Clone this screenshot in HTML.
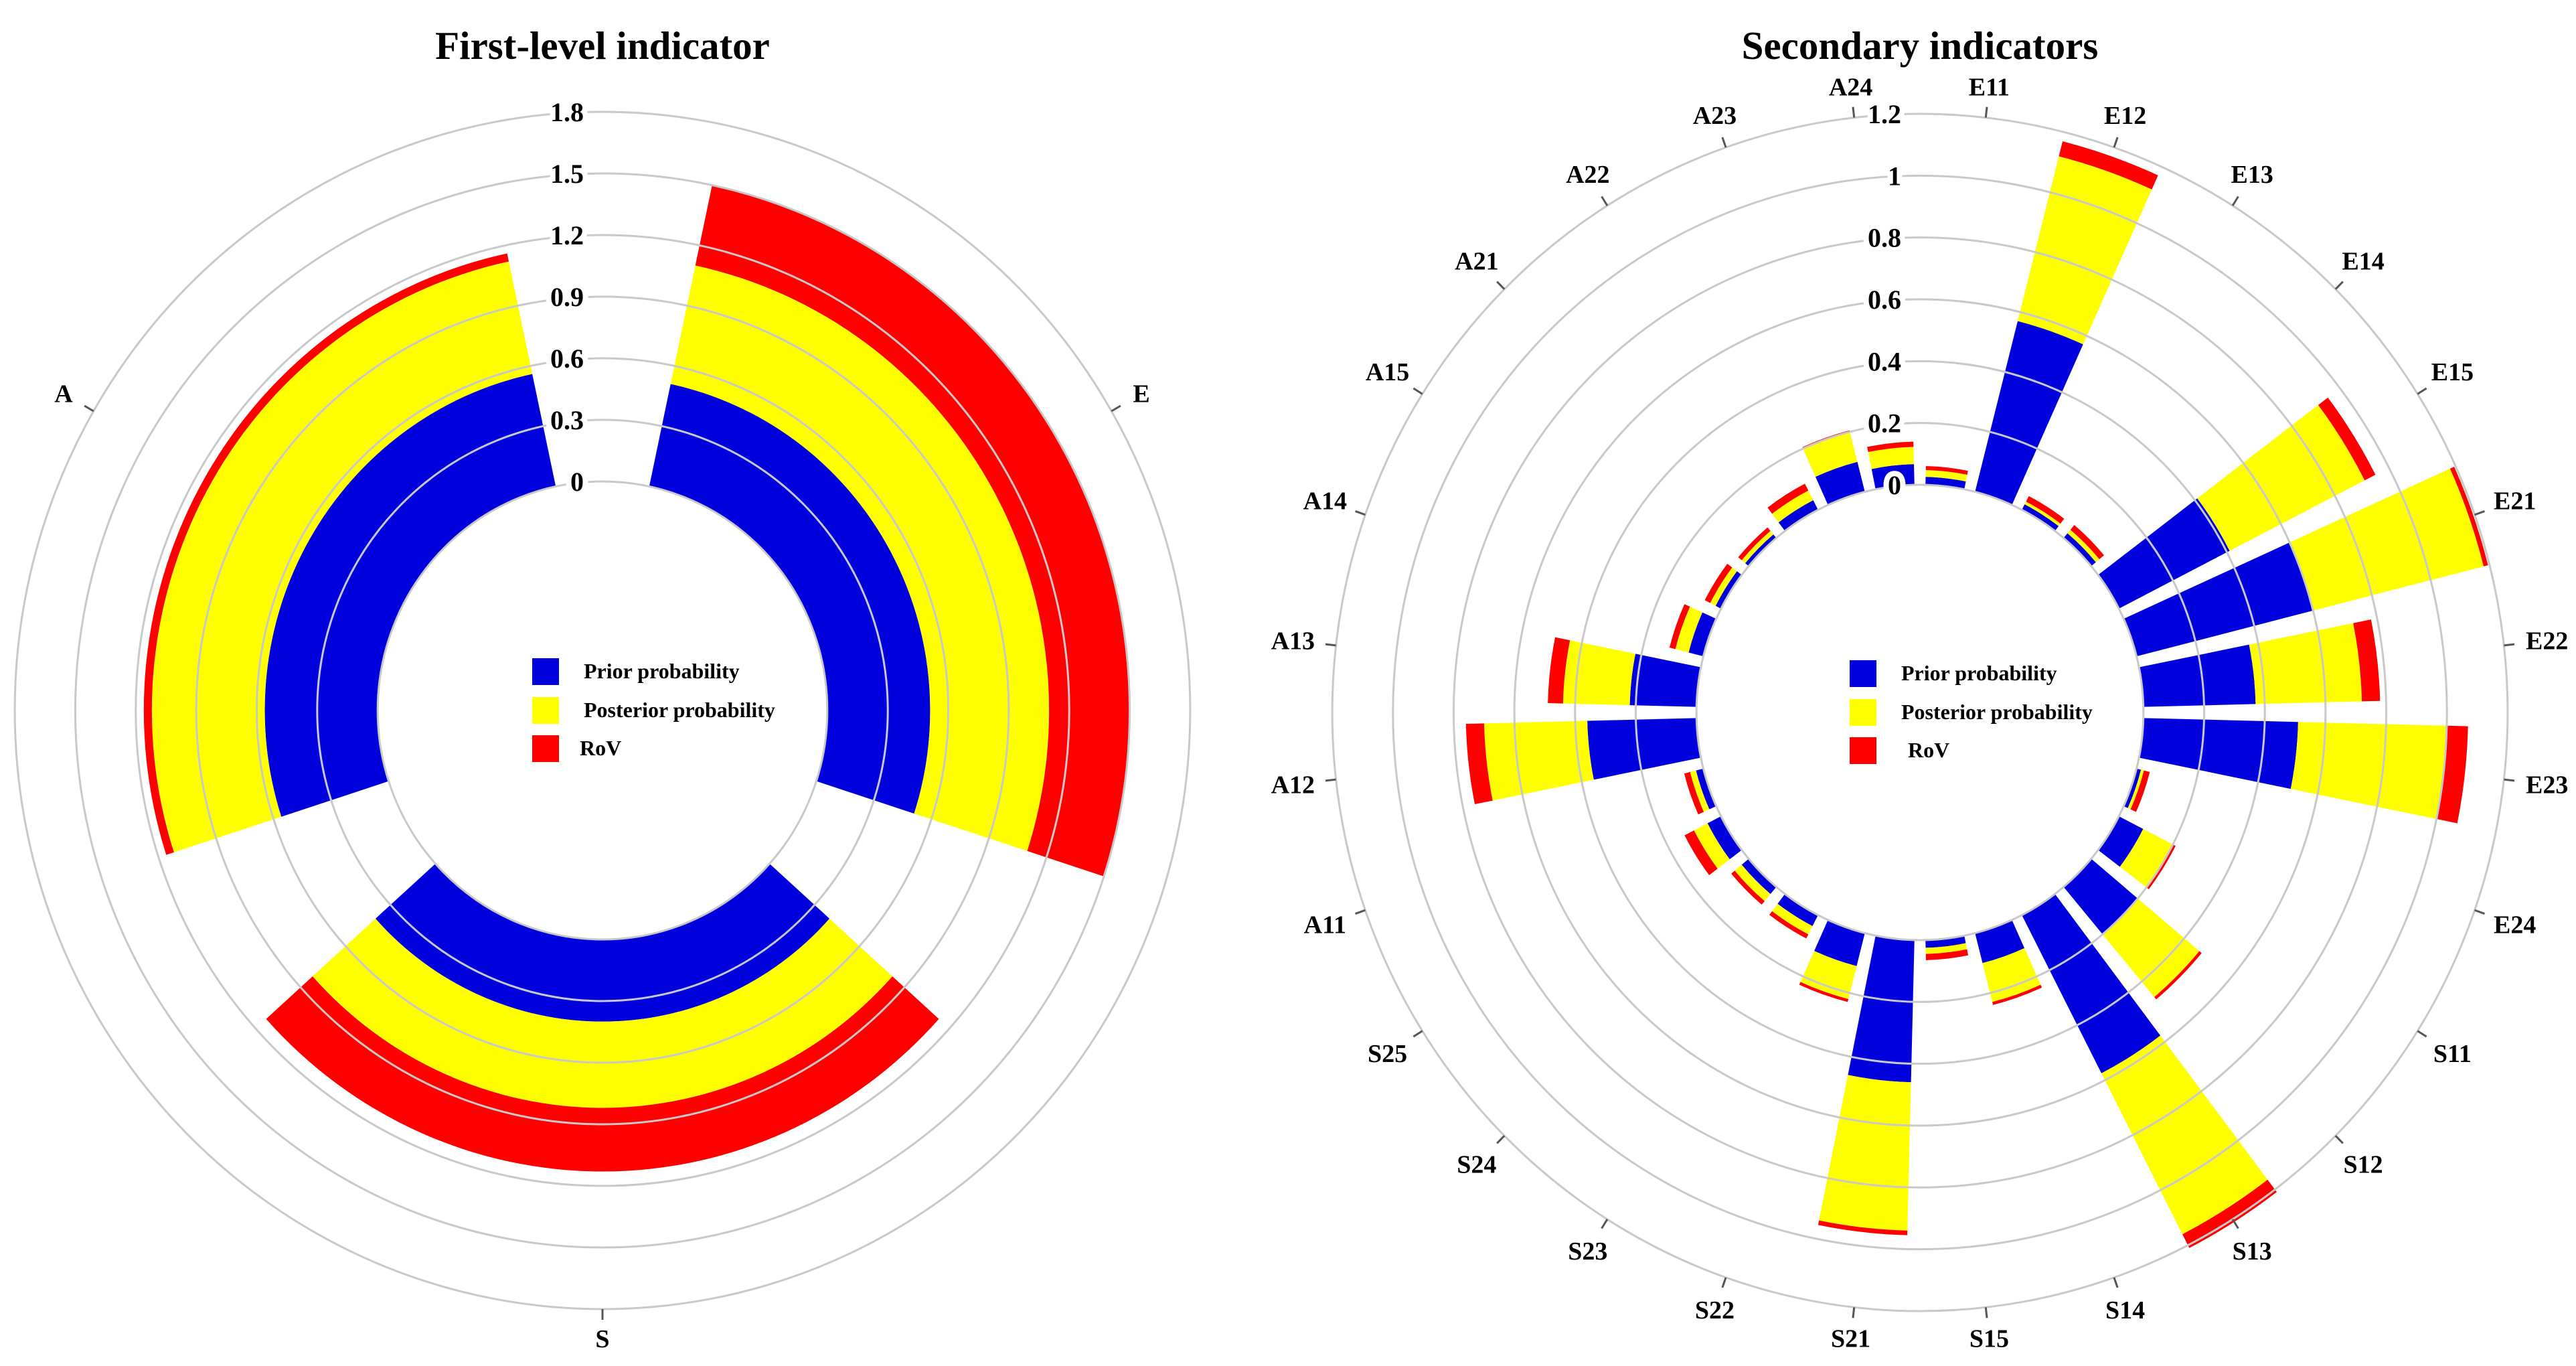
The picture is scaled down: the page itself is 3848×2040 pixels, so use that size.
<!DOCTYPE html>
<html><head><meta charset="utf-8">
<style>
html,body{margin:0;padding:0;background:#fff;}
svg{display:block;}
text{font-family:"Liberation Serif",serif;font-weight:bold;fill:#000;}
</style></head>
<body>
<svg id="svg" width="3848" height="2040" viewBox="0 0 3848 2040" xmlns="http://www.w3.org/2000/svg">
<text x="900" y="88" font-size="59" text-anchor="middle">First-level indicator</text>
<text x="2868" y="88" font-size="59" text-anchor="middle">Secondary indicators</text>
<g id="left"></g>
<g id="right"></g>
</svg>
<script>
// ---- First-level chart data ----
const leftCats = ['E','S','A'];
const leftPrior = [0.51, 0.40, 0.56];
const leftPost = [0.59, 0.42, 0.56];
const leftRov = [0.40, 0.31, 0.04];
const leftTicks = ['0','0.3','0.6','0.9','1.2','1.5','1.8'];
const leftTickVals = [0,0.3,0.6,0.9,1.2,1.5,1.8];

// ---- Secondary chart data ----
const rightCats = ['E11','E12','E13','E14','E15','E21','E22','E23','E24','S11','S12','S13','S14','S15','S21','S22','S23','S24','S25','A11','A12','A13','A14','A15','A21','A22','A23','A24'];
const rightPrior = [0.026,0.57,0.02,0.02,0.41,0.60,0.37,0.51,0.015,0.09,0.20,0.575,0.10,0.025,0.46,0.11,0.04,0.03,0.05,0.025,0.36,0.22,0.05,0.02,0.015,0.035,0.10,0.067];
const rightPost = [0.022,0.55,0.01,0.015,0.50,0.58,0.35,0.49,0.01,0.11,0.265,0.585,0.13,0.02,0.48,0.11,0.03,0.03,0.05,0.02,0.34,0.22,0.045,0.02,0.015,0.035,0.10,0.056];
const rightRov = [0.013,0.05,0.02,0.02,0.04,0.015,0.06,0.07,0.02,0.01,0.01,0.05,0.01,0.02,0.015,0.01,0.015,0.015,0.035,0.02,0.06,0.05,0.02,0.02,0.015,0.025,0.005,0.017];
const rightTicks = ['0','0.2','0.4','0.6','0.8','1','1.2'];
const rightTickVals = [0,0.2,0.4,0.6,0.8,1.0,1.2];

const NS='http://www.w3.org/2000/svg';
const COLORS=['#0000dd','#ffff00','#ff0000'];
const SERIES=['prior','posterior','rov'];
const K=0.982;

function mk(tag, attrs, parent){
  const e=document.createElementNS(NS,tag);
  for(const k in attrs) e.setAttribute(k,attrs[k]);
  parent.appendChild(e); return e;
}
function pt(ax,r,a){const t=a*Math.PI/180;return [ax.cx+K*r*Math.sin(t), ax.cy-r*Math.cos(t)];}
function sector(ax,r1,r2,a1,a2){
  const p1=pt(ax,r2,a1),p2=pt(ax,r2,a2),p3=pt(ax,r1,a2),p4=pt(ax,r1,a1);
  const lg=(a2-a1)>180?1:0;
  return `M${p1[0]},${p1[1]} A${K*r2},${r2} 0 ${lg} 1 ${p2[0]},${p2[1]} L${p3[0]},${p3[1]} A${K*r1},${r1} 0 ${lg} 0 ${p4[0]},${p4[1]} Z`;
}

function drawChart(g, ax, cats, series, tickLabels, tickVals, barFrac, legendRov){
  const n=cats.length, step=360/n;
  const rad=v=>ax.r0+v*(ax.rMax-ax.r0)/ax.vMax;
  for(let i=0;i<n;i++){
    const ac=ax.start+ (i+ax.offset)*step;
    const a1=ac-step*barFrac/2, a2=ac+step*barFrac/2;
    let base=0;
    for(let s=0;s<3;s++){
      const v=series[s][i];
      const p=mk('path',{d:sector(ax,rad(base),rad(base+v),a1,a2),fill:COLORS[s]},g);
      
      
      base+=v;
    }
  }
  for(let t=0;t<tickVals.length;t++){
    const r=rad(tickVals[t]);
    const c=mk('ellipse',{cx:ax.cx,cy:ax.cy,rx:K*r,ry:r,fill:'none',stroke:'#c8c8c8','stroke-width':3},g);
    
    
  }
  const rOut=rad(ax.vMax);
  for(let i=0;i<n;i++){
    const ac=ax.start+(i+ax.offset)*step;
    const p1=pt(ax,rOut,ac),p2=pt(ax,rOut+16,ac);
    const l=mk('line',{x1:p1[0],y1:p1[1],x2:p2[0],y2:p2[1],stroke:'#555','stroke-width':3},g);
    
    
    const hw=cats[i].length>1?22:10;
    const off=44+hw*Math.abs(Math.sin(ac*Math.PI/180));
    const lp=pt(ax,rOut+off,ac);
    const tx=mk('text',{x:lp[0],y:lp[1]+13,'font-size':38,'text-anchor':'middle'},g);
    tx.textContent=cats[i];
    
    
  }
  for(let t=0;t<tickVals.length;t++){
    const r=rad(tickVals[t]);
    const tx=mk('text',{x:ax.cx-28,y:ax.cy-r+14,'font-size':40,'text-anchor':'end',stroke:'#fff','stroke-width':16,'paint-order':'stroke','stroke-linejoin':'round'},g);
    tx.textContent=tickLabels[t];
    
    
  }
  const names=['Prior probability','Posterior probability','RoV'];
  const ys=[-78,-20,37];
  for(let s=0;s<3;s++){
    const r=mk('rect',{x:ax.cx-105,y:ax.cy+ys[s],width:40,height:40,fill:COLORS[s]},g);
    
    
    const tx=mk('text',{x:ax.cx-28+(s==2?legendRov:0),y:ax.cy+ys[s]+30,'font-size':32},g);
    tx.textContent=names[s];
    
    
  }
}

drawChart(document.getElementById('left'),
  {cx:900,cy:1061,r0:342,rMax:894,vMax:1.8,start:60,offset:0},
  leftCats,[leftPrior,leftPost,leftRov],leftTicks,leftTickVals,0.8,-6);
drawChart(document.getElementById('right'),
  {cx:2868,cy:1064,r0:340,rMax:894,vMax:1.2,start:0,offset:0.5},
  rightCats,[rightPrior,rightPost,rightRov],rightTicks,rightTickVals,0.78,10);
</script>
</body></html>
